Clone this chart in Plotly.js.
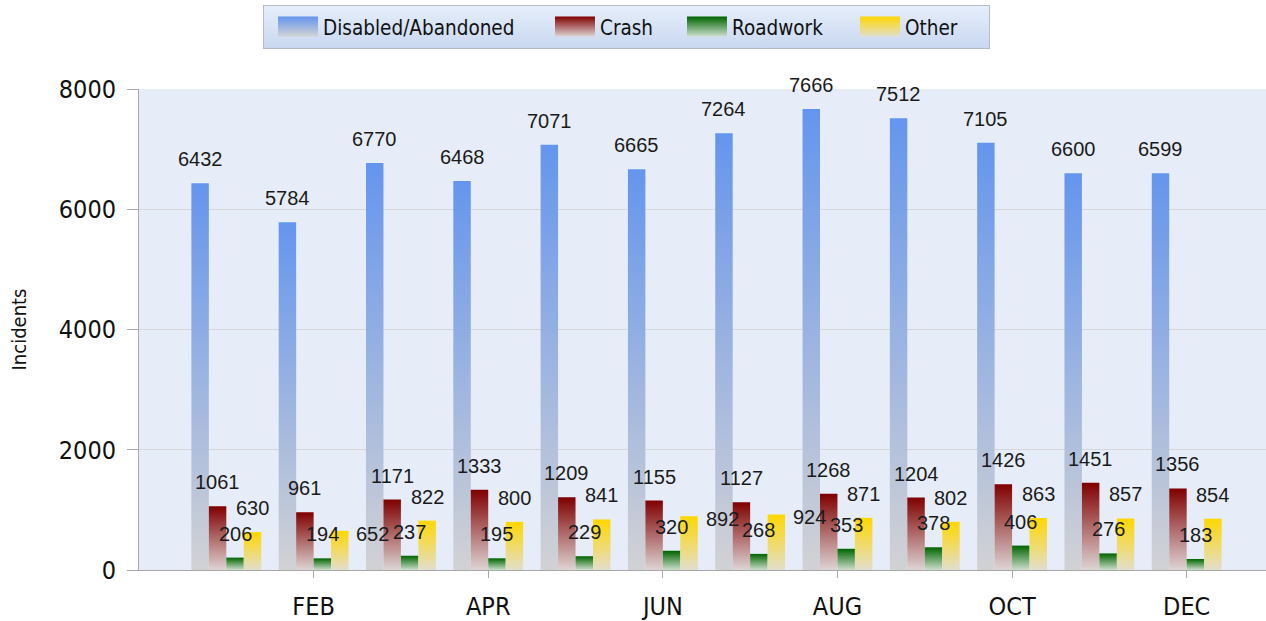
<!DOCTYPE html>
<html>
<head>
<meta charset="utf-8">
<script src="https://cdn.plot.ly/plotly-3.0.1.min.js"></script>
<style>
  html, body { margin: 0; padding: 0; overflow: hidden; background: #fff; }
  #chart { width: 1275px; height: 621px; }
</style>
</head>
<body>
<div id="chart"></div>
<script>
// ---- data ----
const months = ['JAN','FEB','MAR','APR','MAY','JUN','JUL','AUG','SEP','OCT','NOV','DEC'];
const tickMonths = ['FEB','APR','JUN','AUG','OCT','DEC'];
const seriesNames = ['Disabled/Abandoned','Crash','Roadwork','Other'];
const disabled = [6432, 5784, 6770, 6468, 7071, 6665, 7264, 7666, 7512, 7105, 6600, 6599];
const crash    = [1061,  961, 1171, 1333, 1209, 1155, 1127, 1268, 1204, 1426, 1451, 1356];
const roadwork = [ 206,  194,  237,  195,  229,  320,  268,  353,  378,  406,  276,  183];
const other    = [ 630,  652,  822,  800,  841,  892,  924,  871,  802,  863,  857,  854];

// ---- style ----
const topColors    = ['rgb(100,149,237)', 'rgb(128,0,0)',     'rgb(0,100,0)',     'rgb(255,215,0)'];
const bottomColors = ['rgb(210,210,212)', 'rgb(222,212,212)', 'rgb(205,222,205)', 'rgb(226,222,205)'];
const labelXShift  = [-26.2, -8.7, 8.7, 26.2];
// labels of "Other" that sit beside the bar instead of above it (FEB, JUN, JUL)
const sideLabelIdx = [1, 5, 6];
// legend swatch left edges (px) and legend box edges (px)
const legendSwatchLeft = [278, 555, 687, 860];
const legendBox = { left: 263, right: 990, top: 5, bottom: 48 };

const allSeries = [disabled, crash, roadwork, other];

const traces = allSeries.map((vals, s) => ({
  type: 'bar',
  name: seriesNames[s],
  x: months,
  y: vals,
  marker: { color: topColors[s], line: { width: 0 } },
  hoverinfo: 'x+y+name'
}));

const annotations = [];
allSeries.forEach((vals, s) => {
  vals.forEach((v, i) => {
    const side = (s === 3 && sideLabelIdx.includes(i));
    annotations.push({
      x: months[i], y: v, xref: 'x', yref: 'y',
      text: String(v), showarrow: false,
      xanchor: 'center', yanchor: 'middle',
      xshift: side ? labelXShift[s] + 33 : labelXShift[s],
      yshift: side ? -3 : 24,
      font: { family: 'Liberation Sans, Arial, sans-serif', size: 20, color: '#1a1a1a' }
    });
  });
});

const condFamily = 'DejaVu Sans Condensed, DejaVu Sans, sans-serif';
const tickFont = { family: condFamily, size: 25, color: '#111' };

const layout = {
  width: 1275, height: 621,
  margin: { l: 139, r: 1, t: 89, b: 51, pad: 0 },
  paper_bgcolor: '#ffffff',
  plot_bgcolor: '#e6edf9',
  barmode: 'group',
  bargap: 0.2,
  bargroupgap: 0,
  showlegend: true,
  legend: {
    orientation: 'h',
    x: 0.109, xanchor: 'left',
    y: 1.175, yanchor: 'top',
    bgcolor: '#dbe4f4',
    bordercolor: '#b4bccb',
    borderwidth: 1,
    font: { family: condFamily, size: 20.5, color: '#111' },
    itemwidth: 40,
    traceorder: 'normal'
  },
  xaxis: {
    type: 'category',
    categoryorder: 'array',
    categoryarray: months,
    range: [-1, 12],
    tickmode: 'array',
    tickvals: tickMonths,
    ticktext: tickMonths,
    ticks: 'outside', ticklen: 7, tickcolor: '#a8a8a8', tickwidth: 1,
    showline: true, linecolor: '#a8a8a8', linewidth: 1,
    showgrid: false, zeroline: false,
    tickfont: tickFont,
    ticklabelstandoff: 7
  },
  yaxis: {
    range: [0, 8000],
    tickmode: 'linear', tick0: 0, dtick: 2000,
    ticks: 'outside', ticklen: 11, tickcolor: '#a8a8a8', tickwidth: 1,
    showline: true, linecolor: '#a8a8a8', linewidth: 1,
    gridcolor: '#d6d6d6', gridwidth: 1,
    zeroline: false,
    tickfont: tickFont,
    ticklabelstandoff: 6,
    title: {
      text: 'Incidents',
      font: { family: condFamily, size: 20, color: '#111' },
      standoff: 26
    }
  },
  annotations: annotations
};

const gd = document.getElementById('chart');
Plotly.newPlot(gd, traces, layout, { staticPlot: true, displayModeBar: false }).then(() => {
  const svgNS = 'http://www.w3.org/2000/svg';
  const svg = gd.querySelector('.main-svg');
  let defs = svg.querySelector('defs');
  if (!defs) { defs = document.createElementNS(svgNS, 'defs'); svg.insertBefore(defs, svg.firstChild); }
  const mkGrad = (id, c1, c2) => {
    const g = document.createElementNS(svgNS, 'linearGradient');
    g.setAttribute('id', id);
    g.setAttribute('x1', '0'); g.setAttribute('y1', '0');
    g.setAttribute('x2', '0'); g.setAttribute('y2', '1');
    [[0, c1], [1, c2]].forEach(([o, c]) => {
      const st = document.createElementNS(svgNS, 'stop');
      st.setAttribute('offset', String(o));
      st.setAttribute('stop-color', c);
      g.appendChild(st);
    });
    defs.appendChild(g);
  };
  topColors.forEach((c, s) => mkGrad('barGrad' + s, c, bottomColors[s]));
  mkGrad('legendBg', '#e6eefa', '#c9d8f0');

  // gradient fills on bars
  gd.querySelectorAll('.barlayer .trace').forEach((t, s) => {
    t.querySelectorAll('path').forEach(p => { p.style.fill = 'url(#barGrad' + s + ')'; });
  });

  // legend: bigger gradient swatches, wider spacing, gradient background
  const legend = gd.querySelector('.legend');
  legend.querySelectorAll('[clip-path]').forEach(e => e.removeAttribute('clip-path'));
  const svgRect = svg.getBoundingClientRect();
  legend.querySelectorAll('.traces').forEach((t, s) => {
    const p = t.querySelector('.legendpoints path');
    if (!p) return;
    p.setAttribute('d', 'M20,10H-20V-10H20Z');
    p.style.fill = 'url(#barGrad' + s + ')';
    p.style.stroke = 'none';
    const r = p.getBoundingClientRect();
    const dx = legendSwatchLeft[s] - (r.left - svgRect.left);
    const dy = (legendBox.top + legendBox.bottom) / 2 - ((r.top + r.bottom) / 2 - svgRect.top);
    const m = /translate\(([-\d.]+)[ ,]*([-\d.]*)\)/.exec(t.getAttribute('transform') || '');
    const tx = m ? parseFloat(m[1]) : 0;
    const ty = m && m[2] !== '' ? parseFloat(m[2]) : 0;
    t.setAttribute('transform', 'translate(' + (tx + dx) + ',' + (ty + dy) + ')');
  });
  const bg = legend.querySelector('.bg');
  if (bg) {
    const r = bg.getBoundingClientRect();
    const curX = parseFloat(bg.getAttribute('x') || 0);
    const curY = parseFloat(bg.getAttribute('y') || 0);
    bg.setAttribute('x', curX + (legendBox.left - (r.left - svgRect.left)));
    bg.setAttribute('y', curY + (legendBox.top - (r.top - svgRect.top)));
    bg.setAttribute('width', legendBox.right - legendBox.left);
    bg.setAttribute('height', legendBox.bottom - legendBox.top);
    bg.style.fill = 'url(#legendBg)';
  }
});
</script>
</body>
</html>
